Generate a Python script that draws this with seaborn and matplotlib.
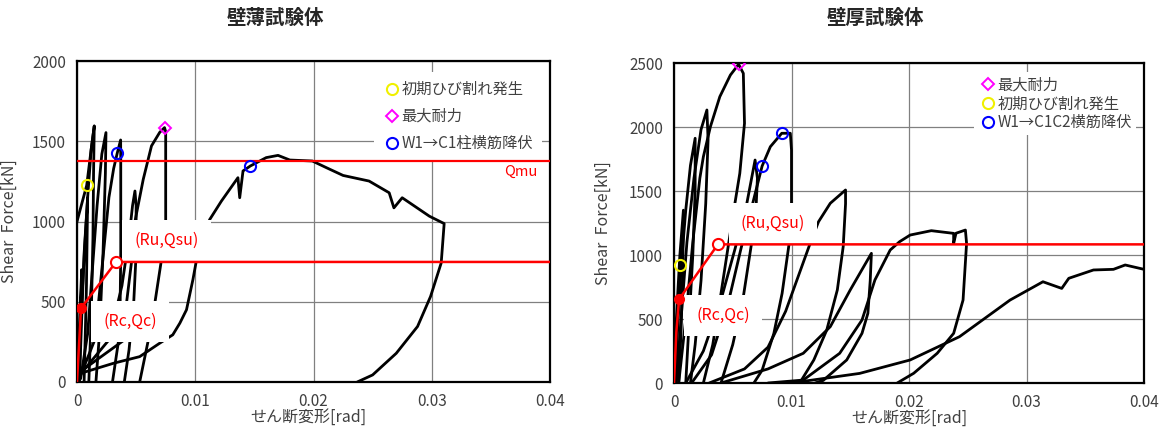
import numpy as np
import pandas as pd
import matplotlib
matplotlib.use("Agg")
import matplotlib.pyplot as plt
from matplotlib.lines import Line2D
import seaborn as sns

# ---- 壁薄試験体 : hysteresis curves (rad, kN) ----
thin_c1 = [(0, 0), (0.0002, 350), (0.0004, 700), (0.0003, 300), (0.0002, 0)]
thin_c2 = [(0.0001, 0), (0.0004, 500), (0.0007, 900), (0.0009, 1150), (0.0008, 600), (0.0006, 0)]
thin_c3 = [(-0.0005, 830), (0, 1000), (0.0004, 1110), (0.00082, 1225), (0.0012, 1450), (0.00146, 1595),
           (0.0014, 1300), (0.00135, 900), (0.0012, 400), (0.0010, 0)]
thin_c4 = [(0.0002, 0), (0.0004, 400), (0.0006, 800), (0.0009, 1150), (0.0012, 1450), (0.00146, 1595)]
thin_c5 = [(0.0003, 20), (0.0009, 300), (0.0013, 700), (0.0017, 1100), (0.0021, 1420), (0.00245, 1554),
           (0.0024, 1300), (0.0022, 800), (0.0019, 300), (0.0016, 0)]
thin_c6 = [(0.0003, 40), (0.0015, 262), (0.0021, 700), (0.0027, 1150), (0.0031, 1330), (0.0034, 1425),
           (0.00369, 1508), (0.0037, 1400), (0.0037, 800), (0.00365, 494), (0.0035, 250), (0.0030, 0)]
thin_c7 = [(0.0003, 50), (0.0027, 262), (0.0038, 600), (0.0044, 900), (0.0047, 1100), (0.0049, 1190),
           (0.0050, 1100), (0.0050, 800), (0.0048, 500), (0.0044, 200), (0.0040, 0)]
thin_c8 = [(0.0002, 60), (0.0040, 262), (0.0042, 500), (0.0046, 742), (0.0049, 1000), (0.0056, 1262),
           (0.0063, 1471), (0.0070, 1556), (0.0074, 1585), (0.0075, 1560), (0.0075, 1000), (0.0071, 742),
           (0.0066, 500), (0.0060, 250), (0.0053, 0)]
thin_c9 = [(0.0003, 54), (0.0031, 117), (0.0053, 158), (0.0070, 242), (0.0081, 294), (0.0087, 367),
           (0.00926, 450), (0.0098, 637), (0.0101, 758), (0.0106, 900), (0.01122, 1012), (0.01221, 1127),
           (0.01361, 1273), (0.01376, 1148), (0.01404, 1315), (0.01466, 1346), (0.0160, 1398),
           (0.0170, 1412), (0.0180, 1383), (0.0199, 1377), (0.0211, 1335), (0.0225, 1287),
           (0.0247, 1252), (0.0264, 1179), (0.0268, 1085), (0.0275, 1148), (0.0298, 1033),
           (0.03105, 987), (0.0308, 742), (0.0299, 533), (0.0288, 346), (0.0270, 179),
           (0.0250, 44), (0.0237, 0)]
thin_curves = [thin_c1, thin_c2, thin_c3, thin_c4, thin_c5, thin_c6, thin_c7, thin_c8, thin_c9]

# ---- 壁厚試験体 ----
thick_c1 = [(0, 0), (0.0002, 500), (0.0005, 1000), (0.0008, 1350), (0.00075, 900), (0.0006, 400), (0.0004, 0)]
thick_c2 = [(0.0001, 0), (0.0003, 400), (0.0006, 900), (0.0010, 1350), (0.0014, 1700), (0.0018, 1912),
            (0.0018, 1500), (0.0016, 1000), (0.0013, 500), (0.0010, 0)]
thick_c3 = [(0.0002, 0), (0.0006, 500), (0.0011, 1100), (0.0017, 1600), (0.0023, 1980), (0.0028, 2133),
            (0.0029, 1900), (0.0027, 1400), (0.0023, 800), (0.0018, 300), (0.0014, 0)]
thick_c4 = [(0.0004, 0), (0.0010, 500), (0.0016, 1100), (0.0022, 1600), (0.0025, 1768), (0.0031, 2003),
            (0.0039, 2237), (0.0048, 2406), (0.0055, 2490), (0.0059, 2419), (0.0060, 2029), (0.0056, 1638),
            (0.0050, 1300), (0.0045, 1000), (0.0040, 700), (0.0033, 300), (0.0025, 0)]
thick_c5 = [(0.0010, 0), (0.0025, 250), (0.0040, 650), (0.0052, 1050), (0.0062, 1404), (0.0069, 1742),
            (0.0071, 1600), (0.0070, 1404), (0.0066, 1091), (0.0059, 674), (0.0050, 300), (0.0040, 0)]
thick_c6 = [(0.0015, 0), (0.0032, 220), (0.0046, 620), (0.0057, 1050), (0.0067, 1404), (0.0075, 1695),
            (0.0082, 1846), (0.00917, 1951), (0.0099, 1951), (0.0100, 1820), (0.0100, 1404), (0.0098, 1091),
            (0.0092, 700), (0.0085, 388), (0.0075, 100), (0.0068, 0)]
thick_c7 = [(0.0030, 0), (0.0060, 110), (0.0080, 280), (0.0095, 560), (0.0116, 1094), (0.0123, 1260),
            (0.0133, 1404), (0.0146, 1508), (0.0146, 1400), (0.0144, 1065), (0.0139, 727), (0.0130, 414),
            (0.0119, 180), (0.0107, 0)]
thick_c8 = [(0.0040, 0), (0.0080, 110), (0.0110, 232), (0.0133, 440), (0.0150, 727), (0.0168, 1013),
            (0.0167, 800), (0.0165, 544), (0.0160, 388), (0.0147, 180), (0.0127, 20), (0.0120, 0)]
thick_c9 = [(0.0080, 0), (0.0110, 23), (0.0141, 232), (0.0160, 492), (0.0171, 805), (0.0184, 1039),
            (0.0192, 1104), (0.0201, 1156), (0.0219, 1190), (0.0238, 1169), (0.0238, 1091), (0.0240, 1170),
            (0.0248, 1195), (0.0249, 1091), (0.0246, 648), (0.0238, 388), (0.0224, 232), (0.0204, 76),
            (0.0190, 0)]
thick_c10 = [(0.0100, 0), (0.0158, 75), (0.0201, 180), (0.0243, 362), (0.0286, 648), (0.0314, 791),
             (0.0330, 739), (0.0336, 818), (0.0357, 883), (0.0374, 888), (0.0384, 922), (0.0400, 888)]
thick_curves = [thick_c1, thick_c2, thick_c3, thick_c4, thick_c5, thick_c6, thick_c7, thick_c8,
                thick_c9, thick_c10]

# evaluation lines / points
thin_tri_x = [0, 0.00034, 0.0033, 0.04]
thin_tri_y = [0, 460, 748, 748]
thin_qmu = 1375
thick_tri_x = [0, 0.0002, 0.00043, 0.00374, 0.04]
thick_tri_y = [0, 400, 654, 1083, 1083]

thin_crack = (0.00082, 1225)
thin_max = (0.0074, 1585)
thin_yield = [(0.0034, 1425), (0.01466, 1346)]
thick_crack = (0.0005, 922)
thick_max = (0.0055, 2490)
thick_yield = [(0.0075, 1695), (0.00917, 1951)]

x_ticks = [0, 0.01, 0.02, 0.03, 0.04]
x_ticklabels = ["0", "0.01", "0.02", "0.03", "0.04"]

sns.set_theme(style="white")
plt.rcParams['font.family'] = ['Noto Sans CJK JP', 'DejaVu Sans']

fig = plt.figure(figsize=(11.59, 4.32), dpi=100)
ax1 = fig.add_axes([77 / 1159, 1 - 382 / 432, 473 / 1159, 321 / 432])
ax2 = fig.add_axes([674 / 1159, 1 - 383 / 432, 470 / 1159, 320 / 432])


def to_frame(curves):
    rows = []
    for i, c in enumerate(curves):
        for j, (x, y) in enumerate(c):
            rows.append({"curve": i, "order": j, "x": x, "y": y})
    return pd.DataFrame(rows)


def style_axis(ax, ymax):
    ax.set_xlim(0, 0.04)
    ax.set_ylim(0, ymax)
    ax.set_xticks(x_ticks)
    ax.set_xticklabels(x_ticklabels)
    ax.set_yticks(np.arange(0, ymax + 1, 500))
    ax.grid(True, color="#808080", linewidth=0.9)
    ax.set_axisbelow(True)
    for s in ax.spines.values():
        s.set_color("black")
        s.set_linewidth(1.6)
    ax.tick_params(axis="both", length=0, labelsize=11, colors="#404040", pad=8)
    ax.set_xlabel("せん断変形[rad]", fontsize=11.5, color="#404040")
    ax.set_ylabel("Shear  Force[kN]", fontsize=11.5, color="#404040")


red = "#ff0000"
box = dict(boxstyle="square,pad=0.75", fc="white", ec="none")

# ---- left panel ----
df1 = to_frame(thin_curves)
sns.lineplot(data=df1, x="x", y="y", units="curve", estimator=None, sort=False,
             color="black", linewidth=2.0, ax=ax1, zorder=3, legend=False)
style_axis(ax1, 2000)
ax1.axhline(thin_qmu, color=red, linewidth=1.6, zorder=6)
ax1.plot(thin_tri_x, thin_tri_y, color=red, linewidth=1.8, zorder=6)
ax1.plot(thin_tri_x[1], thin_tri_y[1], "o", color=red, markersize=7, zorder=7)
ax1.plot(thin_tri_x[2], thin_tri_y[2], "o", mfc="white", mec=red, mew=1.5, markersize=8, zorder=7)
ax1.text(0.00757, 883, "(Ru,Qsu)", color=red, fontsize=11.5, ha="center", va="center", bbox=box, zorder=5)
ax1.text(0.00447, 377, "(Rc,Qc)", color=red, fontsize=11.5, ha="center", va="center", bbox=box, zorder=5)
ax1.text(0.0375, 1311, "Qmu", color=red, fontsize=10.5, ha="center", va="center", zorder=6)
ax1.plot(*thin_crack, "o", mfc="none", mec="#f0f000", mew=1.5, markersize=8, zorder=8)
ax1.plot(*thin_max, "D", mfc="none", mec="#ff00ff", mew=1.4, markersize=6, zorder=8)
for p in thin_yield:
    ax1.plot(*p, "o", mfc="none", mec="#0000ff", mew=1.5, markersize=8, zorder=8)
h1 = [Line2D([], [], ls="none", marker="o", mfc="none", mec="#f0f000", mew=1.5, markersize=8),
      Line2D([], [], ls="none", marker="D", mfc="none", mec="#ff00ff", mew=1.4, markersize=6),
      Line2D([], [], ls="none", marker="o", mfc="none", mec="#0000ff", mew=1.5, markersize=8)]
leg1 = ax1.legend(h1, ["初期ひび割れ発生", "最大耐力", "W1→C1柱横筋降伏"], loc="upper right",
                  bbox_to_anchor=(1.0, 0.99), frameon=True, fancybox=False, framealpha=1,
                  edgecolor="none", fontsize=11, handletextpad=0.0, labelspacing=0.65,
                  borderpad=0.6, handlelength=1.2)
for t in leg1.get_texts():
    t.set_color("#404040")
ax1.yaxis.set_label_coords(-0.125, 0.5)
ax1.xaxis.set_label_coords(0.49, -0.085)

# ---- right panel ----
df2 = to_frame(thick_curves)
sns.lineplot(data=df2, x="x", y="y", units="curve", estimator=None, sort=False,
             color="black", linewidth=2.0, ax=ax2, zorder=3, legend=False)
style_axis(ax2, 2500)
ax2.plot(thick_tri_x, thick_tri_y, color=red, linewidth=1.8, zorder=6)
ax2.plot(thick_tri_x[2], thick_tri_y[2], "o", color=red, markersize=7, zorder=7)
ax2.plot(thick_tri_x[3], thick_tri_y[3], "o", mfc="white", mec=red, mew=1.5, markersize=8, zorder=7)
ax2.text(0.00843, 1248, "(Ru,Qsu)", color=red, fontsize=11.5, ha="center", va="center", bbox=box, zorder=5)
ax2.text(0.00417, 531, "(Rc,Qc)", color=red, fontsize=11.5, ha="center", va="center", bbox=box, zorder=5)
ax2.plot(*thick_crack, "o", mfc="none", mec="#f0f000", mew=1.5, markersize=8, zorder=8)
ax2.plot(*thick_max, "D", mfc="none", mec="#ff00ff", mew=1.4, markersize=6, zorder=8)
for p in thick_yield:
    ax2.plot(*p, "o", mfc="none", mec="#0000ff", mew=1.5, markersize=8, zorder=8)
h2 = [h1[1], h1[0], h1[2]]
leg2 = ax2.legend(h2, ["最大耐力", "初期ひび割れ発生", "W1→C1C2横筋降伏"], loc="upper right",
                  bbox_to_anchor=(1.0, 0.995), frameon=True, fancybox=False, framealpha=1,
                  edgecolor="none", fontsize=11, handletextpad=0.0, labelspacing=0.1,
                  borderpad=0.3, handlelength=1.2)
for t in leg2.get_texts():
    t.set_color("#404040")
ax2.yaxis.set_label_coords(-0.132, 0.5)
ax2.xaxis.set_label_coords(0.5, -0.085)

fig.text(275 / 1159, 1 - 18 / 432, "壁薄試験体", ha="center", va="center", fontsize=14, fontweight="bold")
fig.text(875 / 1159, 1 - 18 / 432, "壁厚試験体", ha="center", va="center", fontsize=14, fontweight="bold")

fig.savefig("out.png", dpi=100)
